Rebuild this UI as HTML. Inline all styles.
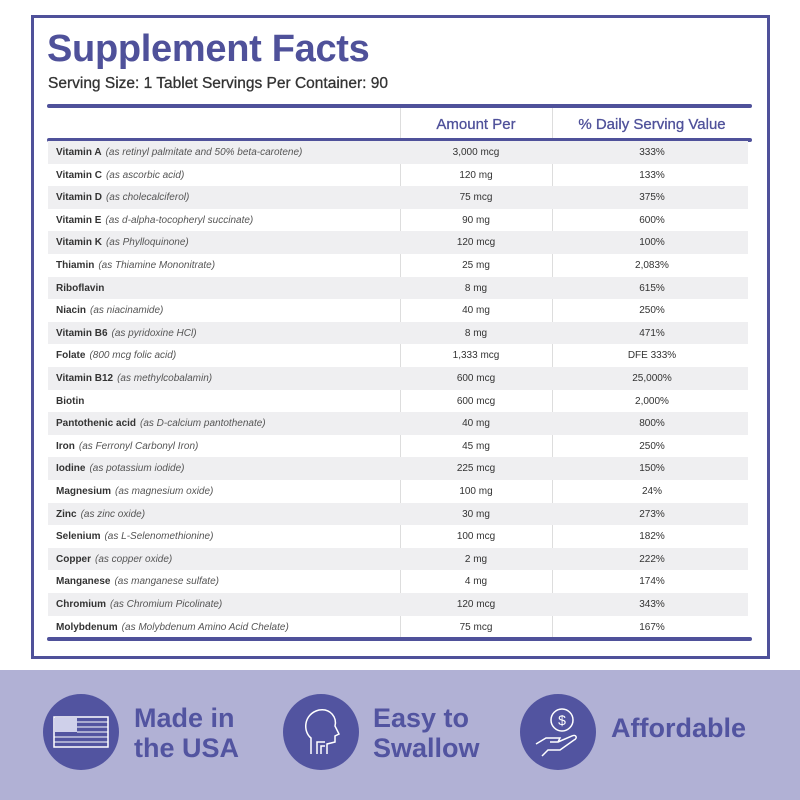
<!DOCTYPE html>
<html><head><meta charset="utf-8"><style>
body{margin:0;width:800px;height:800px;background:#fff;position:relative;overflow:hidden;font-family:"Liberation Sans",sans-serif}
.box{position:absolute;left:31px;top:15px;width:733px;height:638px;border:3px solid #4f519a}
.t{position:absolute;left:47px;top:28px;font-size:38px;font-weight:bold;color:#4f519a;letter-spacing:-0.3px}
.s{position:absolute;left:48px;top:75px;font-size:15.5px;color:#333;-webkit-text-stroke:0.3px #333}
.rule{position:absolute;left:47px;width:705px;height:4px;background:#4f519a;border-radius:2px}
.vl{position:absolute;top:108px;height:530px;width:1px;background:#ddd}
.h{position:absolute;top:116px;font-size:15px;color:#4f519a;text-align:center;-webkit-text-stroke:0.3px #4f519a}
.row{position:absolute;left:48px;width:700px;height:22.6px;font-size:10px;color:#333;line-height:24px}
.row.g{background:#efeff1}
.row b{position:absolute;left:8px;font-weight:bold}
.row b i{font-weight:normal;color:#555;margin-left:4px}
.row .a{position:absolute;left:352px;width:152px;text-align:center}
.row .d{position:absolute;left:504px;width:200px;text-align:center}
.band{position:absolute;left:0;top:670px;width:800px;height:130px;background:#b1b1d5}
.c{position:absolute;width:76px;height:76px;border-radius:50%;background:#5254a0;top:694px}
.bt{position:absolute;font-size:27px;font-weight:bold;color:#5254a0;line-height:30px}
</style></head><body>
<div class="box"></div>
<div class="t">Supplement Facts</div>
<div class="s">Serving Size: 1 Tablet Servings Per Container: 90</div>
<div class="rule" style="top:104px"></div>
<div class="vl" style="left:400px"></div>
<div class="vl" style="left:552px"></div>
<div class="h" style="left:400px;width:152px">Amount Per</div>
<div class="h" style="left:552px;width:200px">% Daily Serving Value</div>
<div class="rule" style="top:138px"></div>
<div class="row g" style="top:141px"><b>Vitamin A<i>(as retinyl palmitate and 50% beta-carotene)</i></b><span class="a">3,000 mcg</span><span class="d">333%</span></div>
<div class="row" style="top:163.6px"><b>Vitamin C<i>(as ascorbic acid)</i></b><span class="a">120 mg</span><span class="d">133%</span></div>
<div class="row g" style="top:186.2px"><b>Vitamin D<i>(as cholecalciferol)</i></b><span class="a">75 mcg</span><span class="d">375%</span></div>
<div class="row" style="top:208.8px"><b>Vitamin E<i>(as d-alpha-tocopheryl succinate)</i></b><span class="a">90 mg</span><span class="d">600%</span></div>
<div class="row g" style="top:231.4px"><b>Vitamin K<i>(as Phylloquinone)</i></b><span class="a">120 mcg</span><span class="d">100%</span></div>
<div class="row" style="top:254px"><b>Thiamin<i>(as Thiamine Mononitrate)</i></b><span class="a">25 mg</span><span class="d">2,083%</span></div>
<div class="row g" style="top:276.6px"><b>Riboflavin</b><span class="a">8 mg</span><span class="d">615%</span></div>
<div class="row" style="top:299.2px"><b>Niacin<i>(as niacinamide)</i></b><span class="a">40 mg</span><span class="d">250%</span></div>
<div class="row g" style="top:321.8px"><b>Vitamin B6<i>(as pyridoxine HCl)</i></b><span class="a">8 mg</span><span class="d">471%</span></div>
<div class="row" style="top:344.4px"><b>Folate<i>(800 mcg folic acid)</i></b><span class="a">1,333 mcg</span><span class="d">DFE 333%</span></div>
<div class="row g" style="top:367px"><b>Vitamin B12<i>(as methylcobalamin)</i></b><span class="a">600 mcg</span><span class="d">25,000%</span></div>
<div class="row" style="top:389.6px"><b>Biotin</b><span class="a">600 mcg</span><span class="d">2,000%</span></div>
<div class="row g" style="top:412.2px"><b>Pantothenic acid<i>(as D-calcium pantothenate)</i></b><span class="a">40 mg</span><span class="d">800%</span></div>
<div class="row" style="top:434.8px"><b>Iron<i>(as Ferronyl Carbonyl Iron)</i></b><span class="a">45 mg</span><span class="d">250%</span></div>
<div class="row g" style="top:457.4px"><b>Iodine<i>(as potassium iodide)</i></b><span class="a">225 mcg</span><span class="d">150%</span></div>
<div class="row" style="top:480px"><b>Magnesium<i>(as magnesium oxide)</i></b><span class="a">100 mg</span><span class="d">24%</span></div>
<div class="row g" style="top:502.6px"><b>Zinc<i>(as zinc oxide)</i></b><span class="a">30 mg</span><span class="d">273%</span></div>
<div class="row" style="top:525.2px"><b>Selenium<i>(as L-Selenomethionine)</i></b><span class="a">100 mcg</span><span class="d">182%</span></div>
<div class="row g" style="top:547.8px"><b>Copper<i>(as copper oxide)</i></b><span class="a">2 mg</span><span class="d">222%</span></div>
<div class="row" style="top:570.4px"><b>Manganese<i>(as manganese sulfate)</i></b><span class="a">4 mg</span><span class="d">174%</span></div>
<div class="row g" style="top:593px"><b>Chromium<i>(as Chromium Picolinate)</i></b><span class="a">120 mcg</span><span class="d">343%</span></div>
<div class="row" style="top:615.6px"><b>Molybdenum<i>(as Molybdenum Amino Acid Chelate)</i></b><span class="a">75 mcg</span><span class="d">167%</span></div>
<div class="rule" style="top:637px"></div>
<div class="band"></div>
<div class="c" style="left:43px"><svg width="76" height="76"><rect x="11" y="23" width="54" height="30" fill="none" stroke="#fff" stroke-width="1.5"/><rect x="12" y="24" width="22" height="14" fill="#cfd0ea"/><g stroke="#fff" stroke-width="1"><line x1="34" y1="28" x2="65" y2="28"/><line x1="34" y1="33" x2="65" y2="33"/><line x1="34" y1="38" x2="65" y2="38"/><line x1="11" y1="43" x2="65" y2="43"/><line x1="11" y1="48" x2="65" y2="48"/></g></svg></div>
<div class="bt" style="left:134px;top:703px">Made in<br>the USA</div>
<div class="c" style="left:283px"><svg width="76" height="76" fill="none" stroke="#fff" stroke-width="1.5"><path d="M28 60 V44 C20 38 20 20 36 16 C48 14 54 24 52 32 L56 40 L52 42 L52 48 L44 50 L44 60"/><path d="M34 60 V48 H42 M38 60 V52 H42"/></svg></div>
<div class="bt" style="left:373px;top:703px">Easy to<br>Swallow</div>
<div class="c" style="left:520px"><svg width="76" height="76" fill="none" stroke="#fff" stroke-width="1.5"><circle cx="42" cy="26" r="11"/><text x="42" y="31" fill="#fff" stroke="none" font-size="14" text-anchor="middle" font-family="Liberation Sans">$</text><path d="M16 50 L26 44 H40 L38 48 H30 M38 48 L52 42 C56 40 58 44 54 46 L40 56 H28 L22 62"/></svg></div>
<div class="bt" style="left:611px;top:713px">Affordable</div>
</body></html>
